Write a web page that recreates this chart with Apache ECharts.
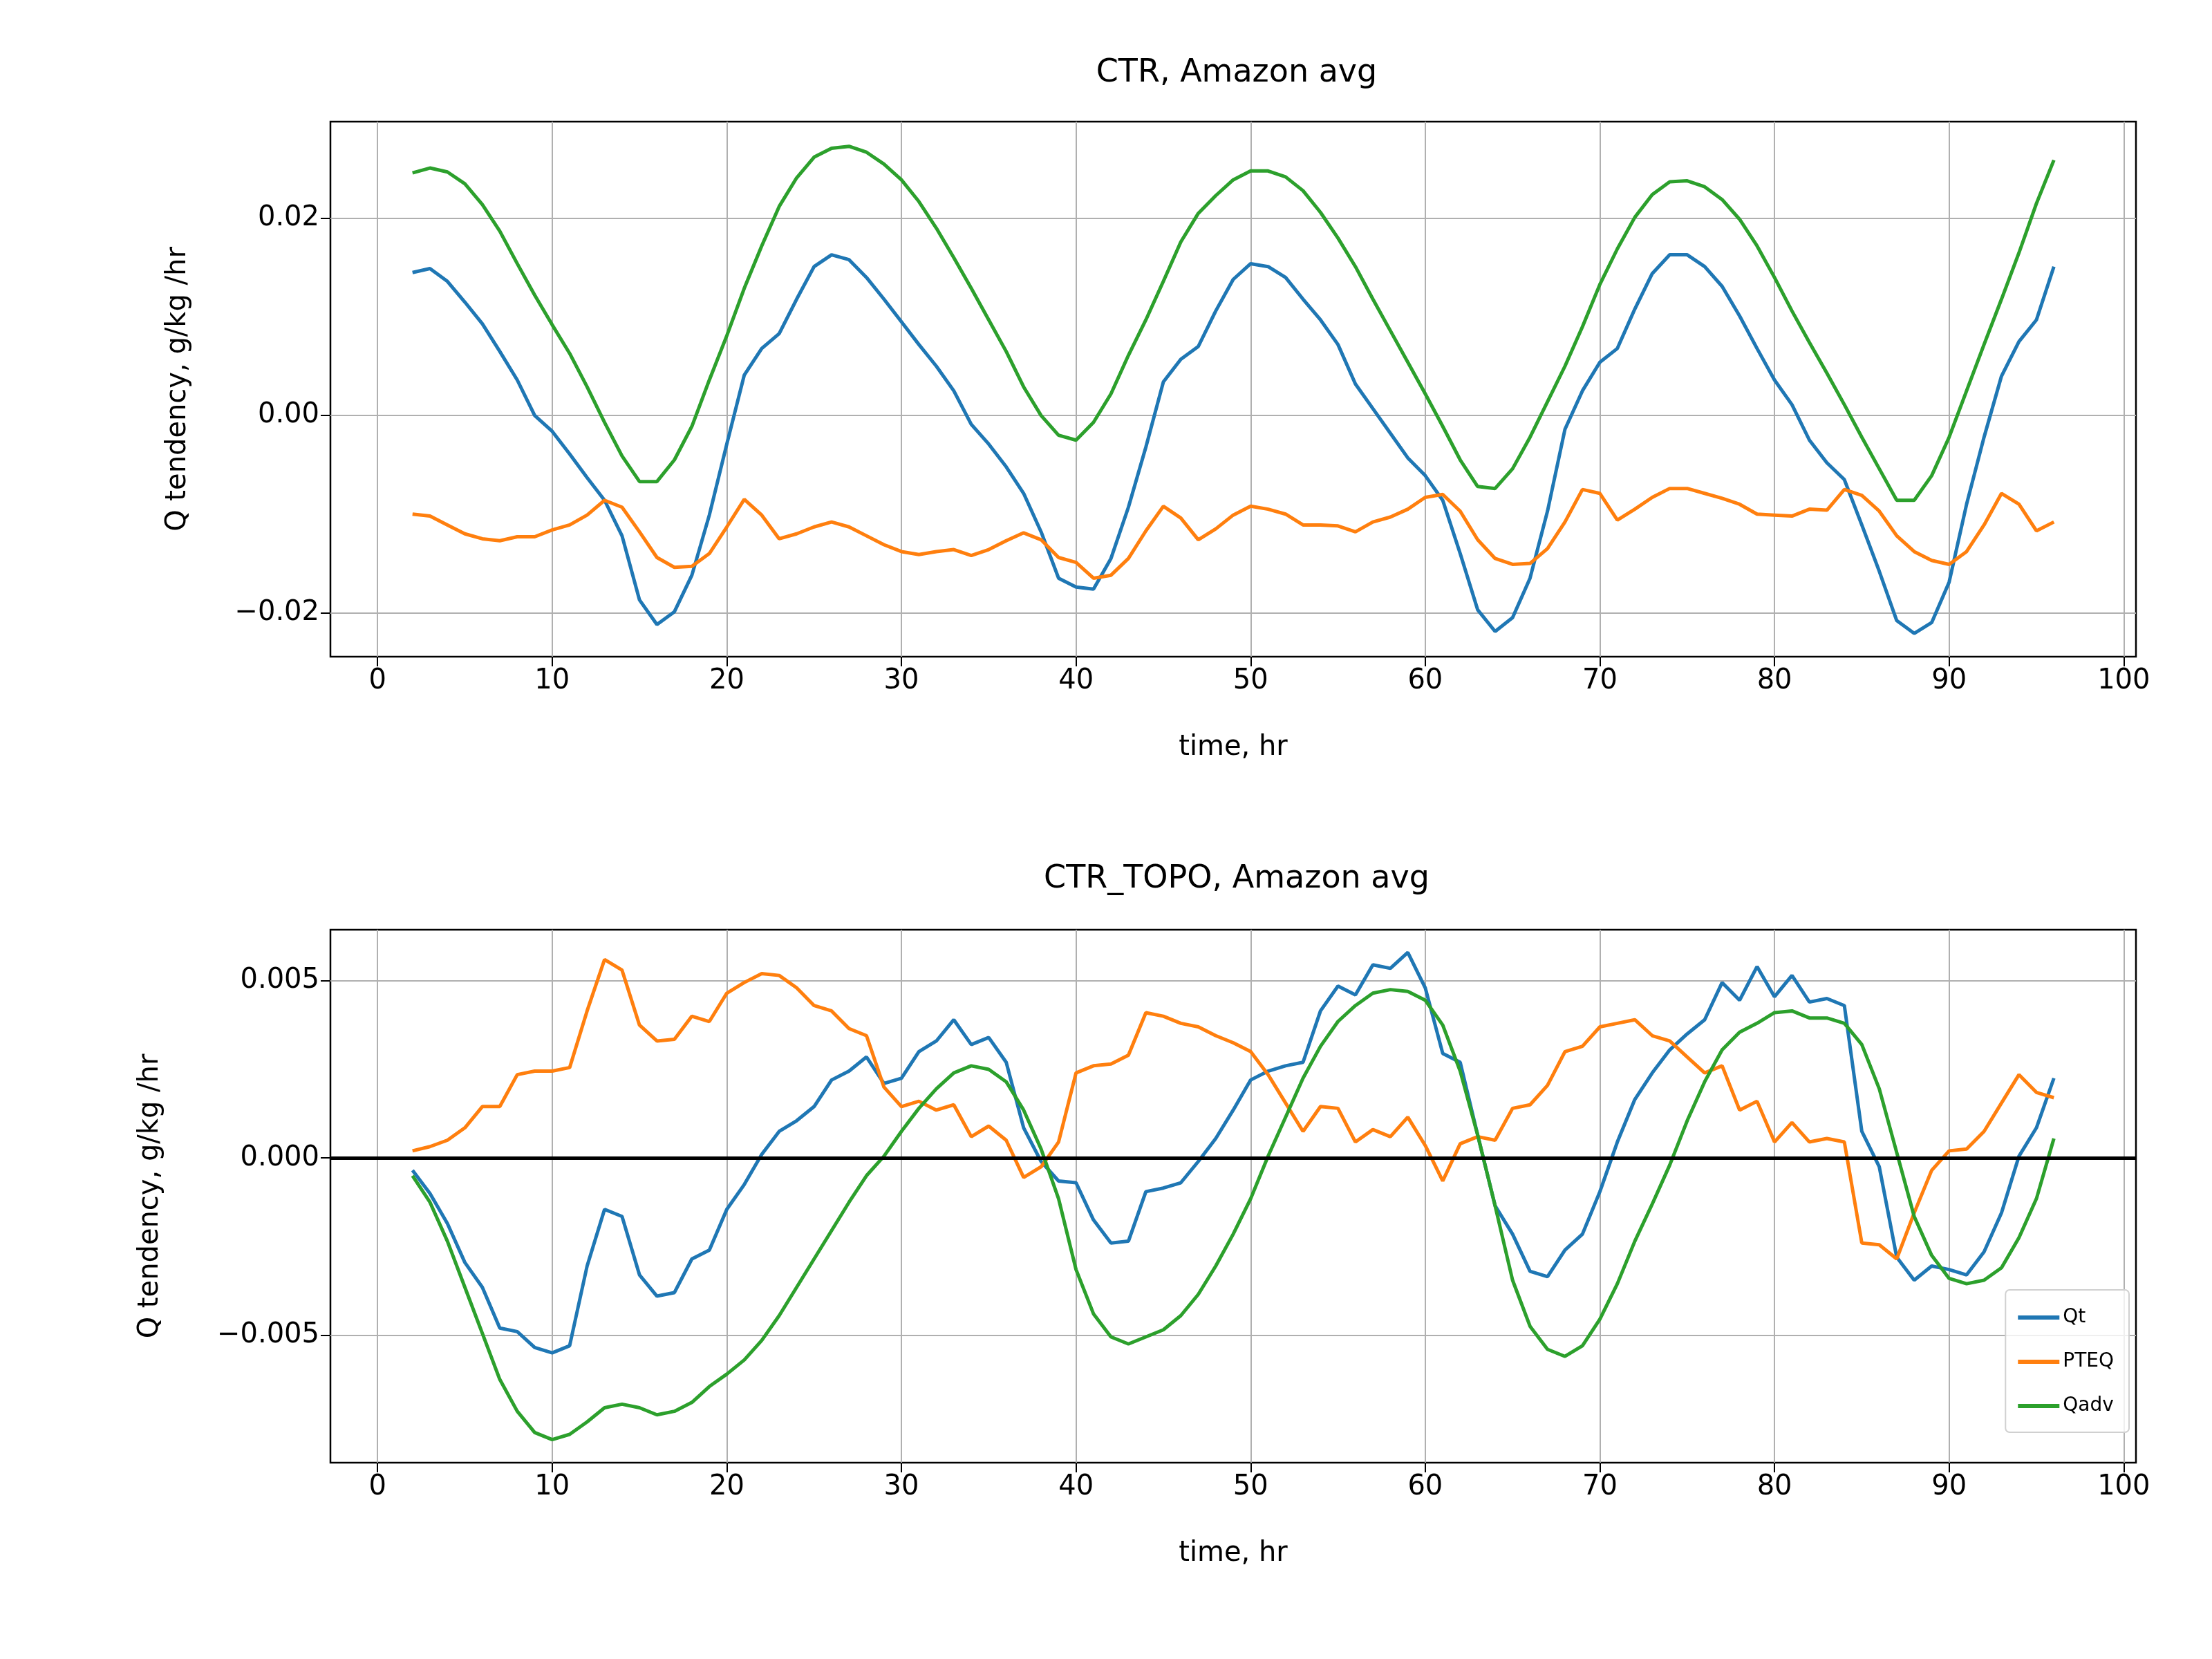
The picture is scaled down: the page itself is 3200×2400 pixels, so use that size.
<!DOCTYPE html>
<html>
<head>
<meta charset="utf-8">
<script src="https://cdn.jsdelivr.net/npm/echarts@6/dist/echarts.min.js"></script>
<style>html,body{margin:0;padding:0;background:#fff}#main{width:3200px;height:2400px}</style>
</head>
<body>
<div id="main"></div>
<script>
var hours = [2,3,4,5,6,7,8,9,10,11,12,13,14,15,16,17,18,19,20,21,22,23,24,25,26,27,28,29,30,31,32,33,34,35,36,37,38,39,40,41,42,43,44,45,46,47,48,49,
  50,51,52,53,54,55,56,57,58,59,60,61,62,63,64,65,66,67,68,69,70,71,72,73,74,75,76,77,78,79,80,81,82,83,84,85,86,87,88,89,90,91,92,93,94,95,96];

// CTR panel, g/kg/hr
var ctrQt = [0.0145,0.0149,0.0136,0.0115,0.0093,0.0065,0.0036,0,-0.0016,-0.0039,-0.0063,-0.0086,-0.0122,-0.0187,-0.0212,-0.0199,-0.0162,-0.0101,-0.0029,0.0041,0.0068,0.0083,0.0118,0.0151,0.0163,0.0158,0.014,0.0118,0.0095,0.0072,0.005,0.0025,-0.0009,-0.0029,-0.0052,-0.0079,-0.0118,-0.0165,-0.0174,-0.0176,-0.0145,-0.0093,-0.0032,0.0034,0.0057,0.007,0.0106,0.0138,
  0.0154,0.0151,0.014,0.0118,0.0097,0.0072,0.0032,0.0007,-0.0018,-0.0043,-0.0061,-0.0086,-0.014,-0.0197,-0.0219,-0.0205,-0.0165,-0.0097,-0.0014,0.0025,0.0054,0.0068,0.0108,0.0144,0.0163,0.0163,0.0151,0.0131,0.0101,0.0068,0.0036,0.0011,-0.0025,-0.0048,-0.0065,-0.0111,-0.0158,-0.0208,-0.0221,-0.021,-0.0169,-0.009,-0.0022,0.004,0.0075,0.0097,0.0151];
var ctrPteq = [-0.01,-0.0102,-0.0111,-0.012,-0.0125,-0.0127,-0.0123,-0.0123,-0.0116,-0.0111,-0.0101,-0.0086,-0.0093,-0.0118,-0.0144,-0.0154,-0.0153,-0.014,-0.0113,-0.0085,-0.0101,-0.0125,-0.012,-0.0113,-0.0108,-0.0113,-0.0122,-0.0131,-0.0138,-0.0141,-0.0138,-0.0136,-0.0142,-0.0136,-0.0127,-0.0119,-0.0126,-0.0144,-0.0149,-0.0165,-0.0162,-0.0145,-0.0117,-0.0092,-0.0104,-0.0126,-0.0115,-0.0101,
  -0.0092,-0.0095,-0.01,-0.0111,-0.0111,-0.0112,-0.0118,-0.0108,-0.0103,-0.0095,-0.0083,-0.008,-0.0097,-0.0126,-0.0145,-0.0151,-0.015,-0.0135,-0.0108,-0.0075,-0.0079,-0.0106,-0.0095,-0.0083,-0.0074,-0.0074,-0.0079,-0.0084,-0.009,-0.01,-0.0101,-0.0102,-0.0095,-0.0096,-0.0075,-0.0081,-0.0097,-0.0122,-0.0138,-0.0147,-0.0151,-0.0138,-0.0111,-0.0079,-0.009,-0.0117,-0.0108];
var ctrQadv = [0.0246,0.0251,0.0247,0.0235,0.0214,0.0187,0.0154,0.0122,0.0092,0.0063,0.0029,-0.0007,-0.0041,-0.0067,-0.0067,-0.0045,-0.0011,0.0036,0.0081,0.0129,0.0172,0.0212,0.0241,0.0262,0.0271,0.0273,0.0267,0.0255,0.0239,0.0217,0.019,0.016,0.0129,0.0097,0.0065,0.0029,0,-0.002,-0.0025,-0.0007,0.0022,0.0061,0.0097,0.0136,0.0176,0.0205,0.0223,0.0239,
  0.0248,0.0248,0.0242,0.0228,0.0206,0.018,0.0151,0.0118,0.0086,0.0054,0.0022,-0.0011,-0.0045,-0.0072,-0.0074,-0.0054,-0.0022,0.0014,0.005,0.009,0.0133,0.0169,0.0201,0.0224,0.0237,0.0238,0.0232,0.0219,0.0199,0.0172,0.014,0.0106,0.0074,0.0043,0.0011,-0.0022,-0.0054,-0.0086,-0.0086,-0.0061,-0.0022,0.0025,0.0072,0.0118,0.0165,0.0215,0.0259];

// CTR_TOPO panel, in units of 0.001 g/kg/hr
var topoQt = [-0.35,-1.0,-1.85,-2.95,-3.65,-4.8,-4.9,-5.35,-5.5,-5.3,-3.05,-1.45,-1.65,-3.3,-3.9,-3.8,-2.85,-2.6,-1.45,-0.75,0.1,0.75,1.05,1.45,2.2,2.45,2.85,2.1,2.25,3.0,3.3,3.9,3.2,3.4,2.7,0.85,-0.1,-0.65,-0.7,-1.75,-2.4,-2.35,-0.95,-0.85,-0.7,-0.1,0.55,1.35,
  2.2,2.45,2.6,2.7,4.15,4.85,4.6,5.45,5.35,5.8,4.8,2.95,2.7,0.65,-1.35,-2.15,-3.2,-3.35,-2.6,-2.15,-0.95,0.45,1.65,2.4,3.05,3.5,3.9,4.95,4.45,5.4,4.55,5.15,4.4,4.5,4.3,0.75,-0.25,-2.8,-3.45,-3.05,-3.15,-3.3,-2.65,-1.55,0.05,0.85,2.25];
var topoPteq = [0.2,0.32,0.5,0.85,1.45,1.45,2.35,2.45,2.45,2.55,4.15,5.6,5.3,3.75,3.3,3.35,4.0,3.85,4.65,4.95,5.2,5.15,4.8,4.3,4.15,3.65,3.45,2.0,1.45,1.6,1.35,1.5,0.6,0.9,0.5,-0.55,-0.25,0.45,2.4,2.6,2.65,2.9,4.1,4.0,3.8,3.7,3.45,3.25,
  3.0,2.35,1.55,0.75,1.45,1.4,0.45,0.8,0.6,1.15,0.35,-0.65,0.4,0.6,0.5,1.4,1.5,2.05,3.0,3.15,3.7,3.8,3.9,3.45,3.3,2.85,2.4,2.6,1.35,1.6,0.45,1.0,0.45,0.55,0.45,-2.4,-2.45,-2.85,-1.55,-0.35,0.2,0.25,0.75,1.55,2.35,1.85,1.7];
var topoQadv = [-0.5,-1.25,-2.35,-3.65,-4.95,-6.25,-7.15,-7.75,-7.95,-7.8,-7.45,-7.05,-6.95,-7.05,-7.25,-7.15,-6.9,-6.45,-6.1,-5.7,-5.15,-4.45,-3.65,-2.85,-2.05,-1.25,-0.5,0.05,0.75,1.4,1.95,2.4,2.6,2.5,2.15,1.35,0.25,-1.15,-3.15,-4.4,-5.05,-5.25,-5.05,-4.85,-4.45,-3.85,-3.05,-2.15,
  -1.15,0.05,1.15,2.25,3.15,3.85,4.3,4.65,4.75,4.7,4.45,3.75,2.45,0.65,-1.35,-3.45,-4.75,-5.4,-5.6,-5.3,-4.55,-3.55,-2.35,-1.3,-0.2,1.05,2.15,3.05,3.55,3.8,4.1,4.15,3.95,3.95,3.8,3.2,1.95,0.15,-1.65,-2.75,-3.4,-3.55,-3.45,-3.1,-2.25,-1.15,0.55];

var xTicks = [0,10,20,30,40,50,60,70,80,90,100];
var ctrTicks = [-0.02,0,0.02];
var topoTicks = [-5,0,5];
var names = ['Qt','PTEQ','Qadv'];
var colors = ['#1f77b4','#ff7f0e','#2ca02c'];

function pairs(vals) {
  return hours.map(function (h, i) { return [h, vals[i]]; });
}
function minus(s) { return String(s).replace('-', '\u2212'); }

var font = 'DejaVu Sans';
var gridLine = {show: true, lineStyle: {color: '#b0b0b0', width: 2}};

function xAxis(idx) {
  return {
    gridIndex: idx, type: 'value', min: -2.7, max: 100.7,
    name: 'time, hr', nameLocation: 'middle', nameGap: 112,
    nameTextStyle: {fontFamily: font, fontSize: 40, color: '#000'},
    axisLine: {show: false, onZero: false},
    axisTick: {show: true, inside: false, length: 14, customValues: xTicks, lineStyle: {color: '#000', width: 2}},
    axisLabel: {customValues: xTicks, fontFamily: font, fontSize: 40, color: '#000', margin: 16},
    splitLine: gridLine
  };
}
function yAxis(idx, min, max, ticks, fmt, gap) {
  return {
    gridIndex: idx, type: 'value', min: min, max: max,
    name: 'Q tendency, g/kg /hr', nameLocation: 'middle', nameGap: gap, nameRotate: 90,
    nameTextStyle: {fontFamily: font, fontSize: 40, color: '#000'},
    axisLine: {show: false, onZero: false},
    axisTick: {show: true, inside: false, length: 14, customValues: ticks, lineStyle: {color: '#000', width: 2}},
    axisLabel: {customValues: ticks, fontFamily: font, fontSize: 40, color: '#000', margin: 16, formatter: fmt},
    splitLine: gridLine
  };
}

var series = [];
[[ctrQt, ctrPteq, ctrQadv], [topoQt, topoPteq, topoQadv]].forEach(function (set, g) {
  set.forEach(function (vals, k) {
    var s = {
      name: names[k], type: 'line', xAxisIndex: g, yAxisIndex: g,
      data: pairs(vals), showSymbol: false, symbol: 'none',
      lineStyle: {color: colors[k], width: 5}, itemStyle: {color: colors[k]}, z: 3
    };
    if (g === 1 && k === 0) {
      s.markLine = {symbol: 'none', silent: true, label: {show: false},
        lineStyle: {color: '#000', width: 5, type: 'solid'}, data: [{yAxis: 0}]};
    }
    series.push(s);
  });
});

var chart = echarts.init(document.getElementById('main'));
chart.setOption({
  backgroundColor: '#fff',
  animation: false,
  title: [
    {text: 'CTR, Amazon avg', left: 1784, top: 78, textAlign: 'center', textStyle: {fontFamily: font, fontSize: 46, fontWeight: 'normal', color: '#000'}},
    {text: 'CTR_TOPO, Amazon avg', left: 1784, top: 1244, textAlign: 'center', textStyle: {fontFamily: font, fontSize: 46, fontWeight: 'normal', color: '#000'}}
  ],
  grid: [
    {left: 478, right: 110, top: 176, height: 774, show: true, borderColor: '#000', borderWidth: 2.5, backgroundColor: 'transparent'},
    {left: 478, right: 110, top: 1345, height: 771, show: true, borderColor: '#000', borderWidth: 2.5, backgroundColor: 'transparent'}
  ],
  xAxis: [xAxis(0), xAxis(1)],
  yAxis: [
    yAxis(0, -0.02446, 0.0298, ctrTicks, function (v) { return minus(v.toFixed(2)); }, 200),
    yAxis(1, -8.6, 6.44, topoTicks, function (v) { return minus((v / 1000).toFixed(3)); }, 240)
  ],
  legend: {
    data: names, orient: 'vertical', right: 120, top: 1866,
    itemWidth: 60, itemHeight: 6, itemGap: 36,
    padding: [26, 22, 24, 18],
    backgroundColor: 'rgba(255,255,255,0.8)', borderColor: '#d0d0d0', borderWidth: 2, borderRadius: 6,
    textStyle: {fontFamily: font, fontSize: 28, color: '#000'},
    icon: 'rect'
  },
  series: series
});
</script>
</body>
</html>
